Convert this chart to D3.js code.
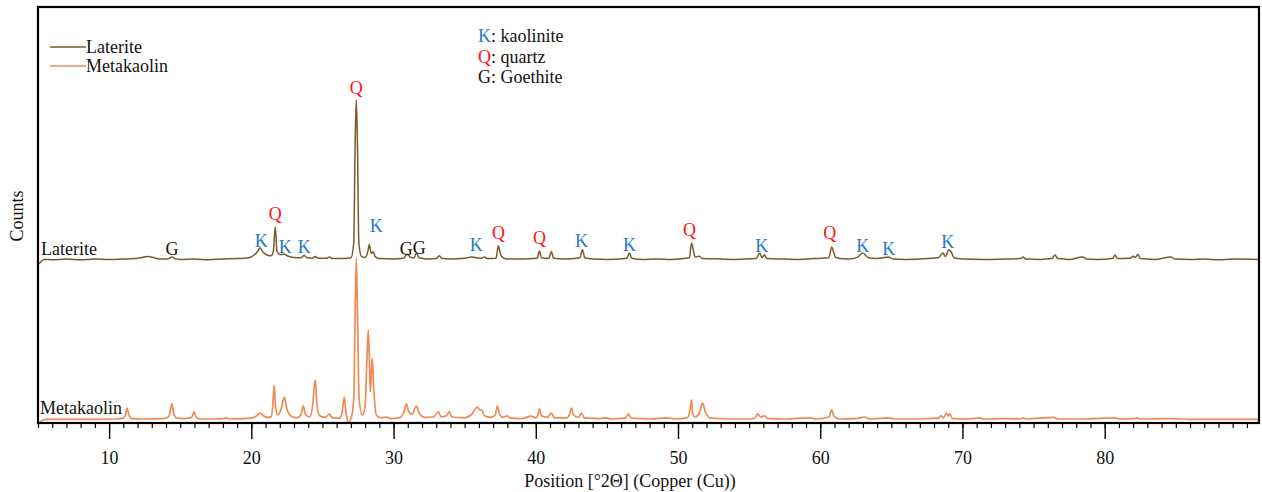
<!DOCTYPE html>
<html>
<head>
<meta charset="utf-8">
<script src="https://cdn.jsdelivr.net/npm/d3@7/dist/d3.min.js"></script>
<style>
  html, body { margin: 0; padding: 0; background: #fff; }
</style>
</head>
<body>
<svg id="chart" width="1262" height="492"></svg>
<script>
// ---------------- data (2θ in degrees, counts as displayed, stacked) ----------------
const seriesNames = ["Laterite", "Metakaolin"];

const lateriteData = [
[5.00,402],[5.08,399],[5.25,405],[5.45,409],[6.0,408],[7.0,410],[8.0,408],[9.0,410],[10.0,409],[11.0,410],
[11.8,411],[12.3,414],[12.7,416],[13.1,414],[13.5,410],[14.1,410],[14.3,413],[14.43,415],[14.6,411],[15.0,409],
[16.0,410],[17.0,408],[18.0,410],[19.0,411],[19.8,413],[20.2,420],[20.5,432],[20.62,438],[20.8,428],[21.1,420],
[21.4,418],[21.55,430],[21.68,490],[21.8,430],[22.0,421],[22.31,422],[22.6,417],[23.0,414],[23.5,413],[23.72,419],
[23.9,413],[24.3,412],[24.49,416],[24.7,412],[25.3,412],[25.48,415],[25.7,411],[26.5,411],[27.0,413],[27.2,450],
[27.3,700],[27.38,808],[27.46,700],[27.56,450],[27.75,416],[28.0,414],[28.2,430],[28.29,446],[28.4,428],[28.45,424],
[28.58,428],[28.7,416],[29.0,411],[30.0,410],[30.7,412],[30.97,422],[31.2,414],[31.45,413],[31.6,425],[31.8,413],
[32.5,410],[33.0,411],[33.22,418],[33.4,411],[34.0,410],[35.0,412],[35.5,415],[35.9,413],[36.2,412],[36.39,415],
[36.6,411],[37.2,412],[37.37,443],[37.5,425],[37.6,416],[38.0,410],[39.0,410],[40.1,412],[40.26,430],[40.4,413],
[40.9,411],[41.1,428],[41.25,412],[42.0,410],[43.1,413],[43.28,433],[43.45,413],[44.0,410],[45.0,409],[46.4,412],
[46.59,425],[46.75,412],[47.5,409],[48.5,410],[49.5,409],[50.8,413],[50.95,450],[51.08,432],[51.2,415],[51.5,417],
[51.7,411],[53.0,410],[54.0,409],[55.5,411],[55.74,425],[55.9,414],[56.09,420],[56.25,411],[57.5,410],[58.5,409],
[59.5,411],[60.6,413],[60.81,440],[60.95,426],[61.1,413],[62.0,410],[62.6,414],[62.99,425],[63.4,413],[64.0,411],
[64.82,415],[65.1,410],[66.0,409],[67.0,410],[68.3,413],[68.62,425],[68.8,416],[69.04,433],[69.2,428],[69.4,413],
[70.0,410],[71.5,409],[73.0,410],[74.1,411],[74.25,415],[74.45,410],[75.5,409],[76.3,411],[76.5,420],[76.7,411],
[77.5,409],[78.47,415],[78.7,410],[79.5,409],[80.6,412],[80.72,420],[80.9,411],[81.8,412],[81.99,417],[82.15,414],
[82.34,422],[82.5,411],[83.5,409],[84.66,415],[84.9,410],[86.0,409],[87.0,410],[88.0,408],[89.0,410],[90.85,409]
];

const metakaolinData = [
[5.0,2.5],[5.08,0],[5.3,6],[5.6,9],[7,9],[9,9],[10.5,10],[11.0,12],[11.15,22],[11.26,37],[11.38,22],[11.55,11],
[12.5,10],[13.8,11],[14.2,16],[14.3,30],[14.41,48],[14.52,28],[14.7,13],[15.2,11],[15.8,14],[15.98,28],[16.12,14],
[16.5,10],[17.5,10],[18.0,11],[18.23,13],[18.5,10],[19.5,11],[20.2,14],[20.5,22],[20.62,25],[20.8,20],[21.1,14],
[21.4,16],[21.5,40],[21.61,95],[21.7,40],[21.85,20],[22.1,35],[22.31,65],[22.5,35],[22.8,17],[23.2,13],[23.5,22],
[23.65,43],[23.8,22],[24.1,15],[24.3,40],[24.49,108],[24.62,45],[24.8,18],[25.2,14],[25.48,22],[25.7,13],[26.2,12],
[26.4,30],[26.53,65],[26.66,25],[26.82,2.5],[27.0,10],[27.2,60],[27.3,280],[27.38,412],[27.46,280],[27.58,60],
[27.8,20],[28.0,40],[28.12,150],[28.22,233],[28.3,160],[28.36,78],[28.43,120],[28.5,162],[28.6,90],[28.79,20],
[29.1,13],[29.49,15],[29.8,11],[30.5,14],[30.75,30],[30.9,48],[31.05,30],[31.3,22],[31.6,42],[31.8,25],[32.2,14],
[32.8,15],[33.15,28],[33.35,15],[33.7,18],[33.92,28],[34.1,15],[35.0,13],[35.5,22],[35.89,40],[36.05,33],[36.18,33],
[36.4,18],[36.8,14],[37.15,20],[37.3,43],[37.45,22],[37.7,14],[38.0,18],[38.2,12],[39.0,11],[39.69,17],[40.0,13],
[40.15,20],[40.26,35],[40.4,18],[40.8,14],[41.1,25],[41.3,13],[42.2,13],[42.4,25],[42.51,38],[42.65,20],[43.0,14],
[43.21,25],[43.4,13],[44.5,11],[44.9,13],[45.3,10],[46.3,12],[46.52,23],[46.7,12],[48.0,10],[49.26,13],[49.8,10],
[50.7,14],[50.85,35],[50.95,58],[51.02,25],[51.2,15],[51.5,25],[51.73,50],[51.95,25],[52.3,12],[53.5,10],[55.0,10],
[55.45,14],[55.6,23],[55.8,15],[56.09,18],[56.3,11],[57.5,10],[59.26,13],[59.7,10],[60.6,15],[60.81,33],[60.95,18],
[61.3,10],[62.5,11],[63.13,15],[63.5,10],[64.82,13],[65.2,10],[67.0,10],[68.3,12],[68.48,18],[68.65,13],[68.9,25],
[69.0,17],[69.11,23],[69.3,11],[70.5,10],[71.15,13],[71.5,10],[72.98,11],[74.1,10],[74.25,13],[74.5,10],[76.43,14],
[76.7,10],[78.5,10],[80.72,13],[81.0,10],[82.1,11],[82.27,13],[82.5,10],[84.66,11],[86,9],[88,9],[90.85,9]
];

// phase annotations on the Laterite pattern: phase letter, 2θ, counts (text baseline)
const annPhase  = ["G","K","Q","K","K","Q","K","G","G","K","Q","Q","K","K","Q","K","Q","K","K","K"];
const annTheta  = [14.43,20.69,21.68,22.38,23.72,27.38,28.79,30.90,31.81,35.82,37.37,40.26,43.21,46.59,50.81,55.88,60.67,62.99,64.82,68.97];
const annCounts = [420,440,507,425,425,822,477,420,422,430,460,447,440,430,467,427,460,427,420,437];

// phase key
const phaseKeyLetters = ["K","Q","G"];
const phaseKeyNames   = ["kaolinite","quartz","Goethite"];

// axis
const xDomain = [5, 90.85];
const yDomain = [0, 1040];
const xMajorTicks = [10,20,30,40,50,60,70,80];
const xMinorTicks = d3.range(5, 91, 1);

const xTitle = "Position [°2Θ] (Copper (Cu))";
const yTitle = "Counts";

// ---------------- styles ----------------
const FONT = '"Liberation Serif", "Times New Roman", Tinos, "DejaVu Serif", "Noto Serif", serif';
const FS = 18;
const colors = { "Laterite": "#7b5a26", "Metakaolin": "#ef8a53" };
const phaseColors = { "K": "#1f7bc6", "Q": "#ff1010", "G": "#111111" };

// ---------------- drawing ----------------
const svg = d3.select("#chart");
const plot = { left: 38, right: 1259, top: 7, bottom: 423 };

const x = d3.scaleLinear().domain(xDomain).range([plot.left, plot.right]);
const y = d3.scaleLinear().domain(yDomain).range([plot.bottom, plot.top]);

svg.append("clipPath").attr("id", "clip")
  .append("rect").attr("x", plot.left).attr("y", plot.top)
  .attr("width", plot.right - plot.left).attr("height", plot.bottom - plot.top);

const line = d3.line().x(d => x(d[0])).y(d => y(d[1])).curve(d3.curveMonotoneX);

const g = svg.append("g").attr("clip-path", "url(#clip)");
g.append("path").datum(metakaolinData)
  .attr("fill", "none").attr("stroke", colors["Metakaolin"]).attr("stroke-width", 1.7)
  .attr("stroke-linejoin", "round").attr("d", line);
g.append("path").datum(lateriteData)
  .attr("fill", "none").attr("stroke", colors["Laterite"]).attr("stroke-width", 1.5)
  .attr("stroke-linejoin", "round").attr("d", line);

// frame
svg.append("rect").attr("x", plot.left).attr("y", plot.top)
  .attr("width", plot.right - plot.left).attr("height", plot.bottom - plot.top)
  .attr("fill", "none").attr("stroke", "#000").attr("stroke-width", 2.2);

// x axis: minor and major ticks
const axMinor = svg.append("g").attr("transform", `translate(0,${plot.bottom})`)
  .call(d3.axisBottom(x).tickValues(xMinorTicks).tickSize(5).tickFormat(""));
axMinor.select(".domain").remove();
axMinor.selectAll("line").attr("stroke", "#000").attr("stroke-width", 1.2);

const axMajor = svg.append("g").attr("transform", `translate(0,${plot.bottom})`)
  .call(d3.axisBottom(x).tickValues(xMajorTicks).tickSize(16).tickPadding(12).tickFormat(d3.format("d")));
axMajor.select(".domain").remove();
axMajor.selectAll("line").attr("stroke", "#000").attr("stroke-width", 1.4);
axMajor.selectAll("text").attr("font-size", FS).attr("fill", "#111").style("font-family", FONT);

// axis titles
svg.append("text").attr("x", 630).attr("y", 487).attr("text-anchor", "middle")
  .attr("font-size", FS).attr("fill", "#111").style("font-family", FONT).text(xTitle);
svg.append("text").attr("transform", "translate(23,216) rotate(-90)")
  .attr("text-anchor", "middle").attr("font-size", FS).attr("fill", "#111").style("font-family", FONT).text(yTitle);

// series labels inside plot
svg.append("text").attr("x", 41).attr("y", 255).attr("font-size", FS).attr("fill", "#111")
  .style("font-family", FONT).text(seriesNames[0]);
svg.append("text").attr("x", 40).attr("y", 414).attr("font-size", FS).attr("fill", "#111")
  .style("font-family", FONT).text(seriesNames[1]);

// series legend
seriesNames.forEach((name, i) => {
  const ly = 47 + i * 19;
  svg.append("line").attr("x1", 50).attr("x2", 86).attr("y1", ly).attr("y2", ly)
    .attr("stroke", colors[name]).attr("stroke-width", 1.6);
  svg.append("text").attr("x", 86).attr("y", ly + 5.5).attr("font-size", FS).attr("fill", "#111")
    .style("font-family", FONT).text(name);
});

// phase key
phaseKeyLetters.forEach((L, i) => {
  const t = svg.append("text").attr("x", 478).attr("y", 42 + i * 20.5).attr("font-size", FS)
    .attr("fill", "#111").style("font-family", FONT);
  t.append("tspan").attr("fill", phaseColors[L]).text(L);
  t.append("tspan").text(": " + phaseKeyNames[i]);
});

// peak annotations
svg.append("g").selectAll("text").data(annPhase).join("text")
  .attr("x", (d, i) => x(annTheta[i]))
  .attr("y", (d, i) => y(annCounts[i]))
  .attr("text-anchor", "middle").attr("font-size", FS)
  .style("font-family", FONT)
  .attr("fill", d => phaseColors[d]).text(d => d);
</script>
</body>
</html>
